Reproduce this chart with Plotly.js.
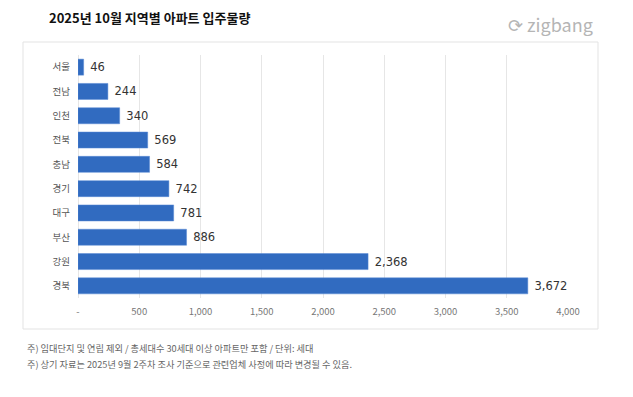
<!DOCTYPE html>
<html><head><meta charset="utf-8">
<script src="https://cdn.plot.ly/plotly-3.0.1.min.js"></script>
<style>html,body{margin:0;padding:0;background:#fff}#c{width:633px;height:397px}</style>
</head><body><div id="c"></div>
<script>
const regions = ['서울','전남','인천','전북','충남','경기','대구','부산','강원','경북'];
const units = [46,244,340,569,584,742,781,886,2368,3672];
const tickVals = [0,500,1000,1500,2000,2500,3000,3500,4000];
const tickLabels = ['-','500','1,000','1,500','2,000','2,500','3,000','3,500','4,000'];
const FONT = '"Noto Sans CJK KR", "Noto Sans", sans-serif';

const trace = {
  type:'bar', orientation:'h', y:regions, x:units,
  marker:{color:'#316bc0', line:{color:'#5a8bd4', width:0.5}},
  width:0.66,
  text: units.map(v=>'\u00a0'+v.toLocaleString('en-US')),
  textposition:'outside', cliponaxis:false,
  textfont:{family:'"DejaVu Sans", sans-serif', size:11.5, color:'#333'},
  hoverinfo:'none'
};
const layout = {
  width:633, height:397,
  margin:{l:78, r:65, t:55, b:99},
  paper_bgcolor:'#fff', plot_bgcolor:'#fff',
  showlegend:false,
  font:{family:FONT},
  xaxis:{range:[0,4000], tickvals:tickVals, ticktext:tickLabels,
    showgrid:true, gridcolor:'#e6e6e6', gridwidth:1, zeroline:true, zerolinecolor:'#e6e6e6',
    tickfont:{family:FONT, size:9.5, color:'#777'}, ticks:'', ticklabelstandoff:6, showline:false, fixedrange:true},
  yaxis:{autorange:'reversed', tickfont:{family:FONT, size:9.5, color:'#555'}, ticks:'', ticklabelstandoff:7, showline:false},
  shapes:[{type:'rect', xref:'paper', yref:'paper', x0:-55/490, x1:(598-78)/490, y0:(397-99-329)/243, y1:(397-99-42)/243,
    line:{color:'#e3e3e3', width:1}, fillcolor:'rgba(0,0,0,0)', layer:'below'}],
  annotations:[
    {xref:'paper', yref:'paper', x:-31/490, y:(397-99-18)/243, xanchor:'left', yanchor:'middle', showarrow:false,
     text:'<b>2025년 10월 지역별 아파트 입주물량</b>', font:{family:FONT, size:13, color:'#111'}},
    {xref:'paper', yref:'paper', x:(595-78)/490, y:(397-99-24)/243, xanchor:'right', yanchor:'middle', showarrow:false,
     text:'⟳ zigbang', font:{family:FONT, size:18, color:'#b5b5b5'}},
    {xref:'paper', yref:'paper', x:-53/490, y:(397-99-348)/243, xanchor:'left', yanchor:'middle', showarrow:false,
     text:'주) 임대단지 및 연립 제외 / 총세대수 30세대 이상 아파트만 포함 / 단위: 세대', font:{family:FONT, size:9.2, color:'#666'}},
    {xref:'paper', yref:'paper', x:-53/490, y:(397-99-364)/243, xanchor:'left', yanchor:'middle', showarrow:false,
     text:'주) 상기 자료는 2025년 9월 2주차 조사 기준으로 관련업체 사정에 따라 변경될 수 있음.', font:{family:FONT, size:9.2, color:'#666'}}
  ]
};
Plotly.newPlot('c',[trace],layout,{displayModeBar:false, staticPlot:true});
</script></body></html>
